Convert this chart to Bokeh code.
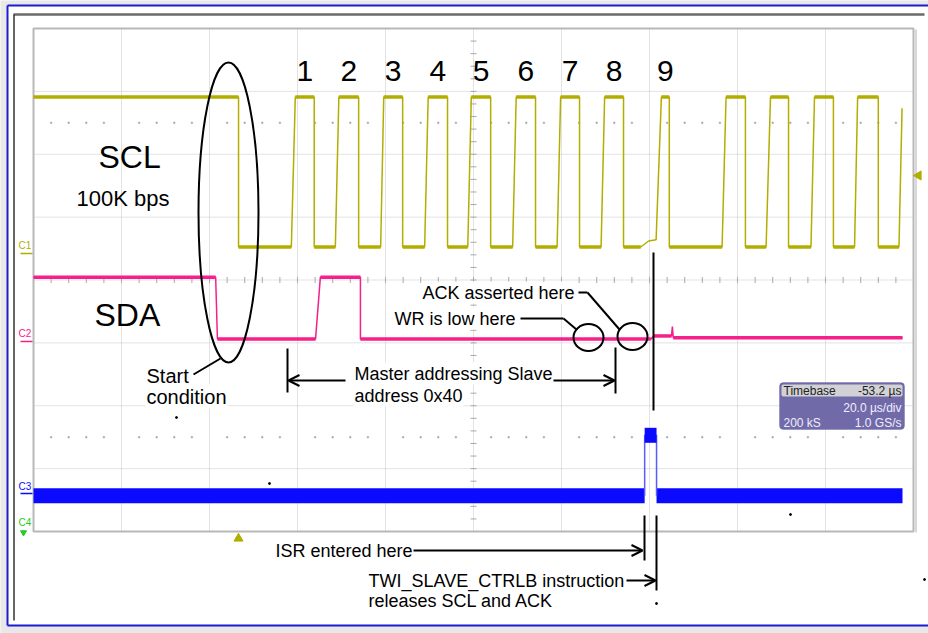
from bokeh.plotting import figure
from bokeh.models import Range1d, Label, Arrow, OpenHead, BoxAnnotation
from bokeh.embed import file_html
from bokeh.resources import INLINE

# ---------------- data (time in microseconds, level in divisions) ----------------
grid_time_us = [0, 20, 40, 60, 80, 100, 120, 140, 160, 180, 200]
grid_level_div = [-4, -3, -2, -1, 0, 1, 2, 3, 4]

# SCL (C1)
scl_high = 2.91
scl_low = 0.525
scl_end_level = 2.73
scl_fall = [46.6, 63.8, 73.9, 83.9, 94.1, 103.9, 114.1, 124.1, 134.1, 144.5, 161.8, 171.6, 181.8, 192.0]
scl_rise_start = [58.6, 68.6, 78.9, 88.9, 98.7, 108.9, 119.0, 129.0, 141.5, 156.5, 166.5, 176.7, 186.6, 196.7]
scl_rise_end = [59.5, 69.4, 79.6, 89.7, 99.5, 109.7, 119.8, 129.8, 142.7, 157.4, 167.5, 177.5, 187.3, 197.4]
scl_ack_index = 8
scl_ack_t = [138.0, 139.8, 141.5]
scl_ack_v = [0.525, 0.62, 0.64]
bit_labels = ["1", "2", "3", "4", "5", "6", "7", "8", "9"]

# SDA (C2)
sda_t = [0.0, 41.4, 41.8, 64.1, 65.2, 74.3, 74.3, 140.3, 141.0, 145.0, 145.2, 145.4, 197.5]
sda_v = [0.045, 0.045, -0.94, -0.94, 0.045, 0.045, -0.94, -0.94, -0.89, -0.89, -0.74, -0.92, -0.92]

# ISR pin (C3)
c3_base = -3.43
c3_pulse_level = -2.47
c3_pulse_start = 138.9
c3_pulse_end = 141.6
c3_end = 197.5

# ---------------- helpers: page pixel -> data units (for annotations) ----------------
PX_PER_US = 4.4
PX_PER_DIV = 62.875
W, H = 928, 633


def X(px):
    return (px - 33) / PX_PER_US


def Y(py):
    return 4 - (py - 28) / PX_PER_DIV


FONT = "Liberation Sans"
SCL_COL = "#b3ad00"
SDA_COL = "#f5208c"
C3_COL = "#0a0aff"
GRID_COL = "#c6c6c6"

p = figure(width=W, height=H,
           x_range=Range1d(X(0), X(W)), y_range=Range1d(Y(H), Y(0)),
           output_backend="svg", toolbar_location=None,
           x_axis_location=None, y_axis_location=None,
           min_border=0, outline_line_color=None,
           background_fill_color="#e8e8e8", border_fill_color="#e8e8e8")
p.grid.visible = False

# ---------------- window frame ----------------
p.quad(left=[X(7)], right=[X(W + 2)], top=[Y(5)], bottom=[Y(625)],
       fill_color="white", line_color=None)
p.segment(x0=[X(7), X(7), X(7)], y0=[Y(5), Y(5), Y(625)],
          x1=[X(7), X(W + 2), X(W + 2)], y1=[Y(625), Y(5), Y(625)],
          line_color="#1c1cd2", line_width=2)
p.segment(x0=[X(13), X(13.5)], y0=[Y(14), Y(14)], x1=[X(924), X(13.5)], y1=[Y(14), Y(620)],
          line_color=["#6a6a6a", "#333333"], line_width=[2.5, 1.5])

# ---------------- scope graticule ----------------
inner_t = grid_time_us[1:-1]
inner_v = grid_level_div[1:-1]
p.segment(x0=inner_t, y0=[-4] * len(inner_t), x1=inner_t, y1=[4] * len(inner_t),
          line_color=GRID_COL, line_dash="1 1", line_width=1)
p.segment(x0=[0] * len(inner_v), y0=inner_v, x1=[200] * len(inner_v), y1=inner_v,
          line_color=GRID_COL, line_dash="1 1", line_width=1)
# minor ticks on the centre cross
minor_t = [t * 4 for t in range(1, 50)]
minor_v = [round(-4 + 0.2 * k, 2) for k in range(1, 40)]
tick_v = 3 / PX_PER_DIV
tick_t = 3 / PX_PER_US
p.segment(x0=minor_t, y0=[-tick_v] * len(minor_t), x1=minor_t, y1=[tick_v] * len(minor_t),
          line_color="#a8a8a8", line_width=1)
p.segment(x0=[100 - tick_t] * len(minor_v), y0=minor_v, x1=[100 + tick_t] * len(minor_v), y1=minor_v,
          line_color="#a8a8a8", line_width=1)
dot_t = [t for t in minor_t if t % 20 != 0]
p.scatter(x=dot_t * 2, y=[2.5] * len(dot_t) + [-2.5] * len(dot_t), size=1.6,
          color="#b0b0b0", marker="circle")
p.segment(x0=[X(915.5)], y0=[Y(29)], x1=[X(915.5)], y1=[Y(532)], line_color="#d8d8d8", line_width=2)
p.quad(left=[0], right=[200], bottom=[-4], top=[4], fill_color=None,
       line_color="#b8b8b8", line_width=2)


def draw_trace(xs, ys, color):
    p.line(xs, ys, line_color=color, line_width=1.5)
    hx0, hx1, hy = [], [], []
    for i in range(len(xs) - 1):
        if ys[i] == ys[i + 1] and xs[i] != xs[i + 1]:
            hx0.append(xs[i]); hx1.append(xs[i + 1]); hy.append(ys[i])
    p.segment(x0=hx0, y0=hy, x1=hx1, y1=hy, line_color=color, line_width=3.5)


# ---------------- SCL ----------------
sx = [0.0, scl_fall[0], scl_fall[0]]
sy = [scl_high, scl_high, scl_low]
last = len(scl_rise_start) - 1
for i in range(len(scl_rise_start)):
    base = scl_low
    if i == scl_ack_index:
        sx += scl_ack_t[:-1]
        sy += scl_ack_v[:-1]
        base = scl_ack_v[-1]
    sx += [scl_rise_start[i], scl_rise_end[i]]
    sy += [base, scl_high if i < last else scl_end_level]
    if i + 1 < len(scl_fall):
        sx += [scl_fall[i + 1], scl_fall[i + 1]]
        sy += [scl_high, scl_low]
draw_trace(sx, sy, SCL_COL)

# ---------------- SDA ----------------
draw_trace(sda_t, sda_v, SDA_COL)

# ---------------- C3 ----------------
p.line([0, c3_pulse_start], [c3_base, c3_base], line_color=C3_COL, line_width=15)
p.line([c3_pulse_end, c3_end], [c3_base, c3_base], line_color=C3_COL, line_width=15)
p.line([c3_pulse_start, c3_pulse_start, c3_pulse_end, c3_pulse_end],
       [c3_base, c3_pulse_level, c3_pulse_level, c3_base], line_color="#5a5aff", line_width=1.5)
p.line([c3_pulse_start, c3_pulse_end], [c3_pulse_level, c3_pulse_level], line_color=C3_COL, line_width=15)

# channel markers
p.segment(x0=[X(20)] * 3, y0=[Y(253), Y(341), Y(493)], x1=[X(32)] * 3, y1=[Y(253), Y(341), Y(493)],
          line_color=[SCL_COL, SDA_COL, C3_COL], line_width=1.5)
for txt, py, col in [("C1", 245, SCL_COL), ("C2", 333, SDA_COL), ("C3", 486, C3_COL), ("C4", 522, "#22cc22")]:
    p.add_layout(Label(x=X(18), y=Y(py), text=txt, text_font=FONT, text_font_size="10px",
                       text_color=col, text_baseline="middle"))
p.scatter(x=[X(23)], y=[Y(532)], marker="inverted_triangle", size=6, color="#22cc22")
# trigger markers
p.scatter(x=[X(238)], y=[Y(538)], marker="triangle", size=9, color=SCL_COL)
p.scatter(x=[X(918)], y=[Y(175)], marker="triangle", size=9, color=SCL_COL, angle=1.5708)
# specks
p.scatter(x=[X(176), X(269), X(790), X(656), X(924)], y=[Y(417), Y(483), Y(514), Y(603), Y(579)],
          size=2, color="black")

# ---------------- annotations ----------------
p.ellipse(x=X(228), y=Y(212), width=60, height=300, width_units="screen", height_units="screen",
          fill_color=None, line_color="black", line_width=2)
p.ellipse(x=[X(588), X(632)], y=[Y(337), Y(336)], width=30, height=27,
          width_units="screen", height_units="screen", fill_color=None, line_color="black", line_width=2)


def label(text, px, py, size, align="left", color="black", bg=None):
    p.add_layout(Label(x=X(px), y=Y(py), text=text, text_font=FONT, text_font_size=size,
                       text_color=color, text_align=align, text_baseline="middle",
                       background_fill_color=bg, padding=1))


for k, txt in enumerate(bit_labels):
    cx = (scl_rise_end[k] + scl_fall[k + 1]) / 2
    p.add_layout(Label(x=cx, y=Y(70), text=txt, text_font=FONT, text_font_size="30px",
                       text_color="black", text_align="center", text_baseline="middle"))

label("SCL", 97, 156, "32px")
label("100K bps", 75, 198, "22px")
label("SDA", 93, 314, "32px")
label("Start", 145, 375, "20px", bg="white")
label("condition", 145, 396, "20px", bg="white")
label("Master addressing Slave", 353, 373, "18px", bg="white")
label("address 0x40", 353, 395, "18px", bg="white")
label("ACK asserted here", 421, 292, "18px", bg="white")
label("WR is low here", 393, 318, "18px", bg="white")
label("ISR entered here", 274, 550, "18px")
label("TWI_SLAVE_CTRLB instruction", 367, 580, "18px")
label("releases SCL and ACK", 367, 600, "18px")


def line(x0, y0, x1, y1, head=False):
    p.add_layout(Arrow(x_start=X(x0), y_start=Y(y0), x_end=X(x1), y_end=Y(y1),
                       line_color="black", line_width=2,
                       end=OpenHead(size=11, line_width=2, line_color="black") if head else None))


line(193, 374, 220, 358)
line(520, 318, 563, 318); line(563, 318, 576, 329)
line(578, 292, 587, 292); line(587, 292, 619, 329)
line(287, 348, 287, 392); line(345, 380, 288, 380, head=True)
line(553, 380, 614, 380, head=True); line(615, 347, 615, 393)
line(653, 252, 653, 410)
line(413, 550, 642, 550, head=True); line(644, 515, 644, 560)
line(626, 580, 655, 580, head=True); line(656, 515, 656, 590)

# ---------------- timebase box ----------------
p.add_layout(BoxAnnotation(left=X(779), right=X(904), top=Y(382), bottom=Y(429),
                           fill_color="#716aa8", fill_alpha=1, line_color="#5d5794",
                           line_width=1, border_radius=4))
p.add_layout(BoxAnnotation(left=X(781), right=X(902), top=Y(384), bottom=Y(396),
                           fill_color="#d2d2d6", fill_alpha=1, line_color="#a0a0a8",
                           line_width=1, border_radius=2))
label("Timebase", 782, 390, "12px", color="#222222")
label("-53.2 µs", 902, 390, "12px", align="right", color="#222222")
label("20.0 µs/div", 902, 407, "12px", align="right", color="#eeeeff")
label("200 kS", 782, 422, "12px", color="#eeeeff")
label("1.0 GS/s", 902, 422, "12px", align="right", color="#eeeeff")

open("out.html", "w").write(file_html(p, INLINE, title="TWI slave timing"))
